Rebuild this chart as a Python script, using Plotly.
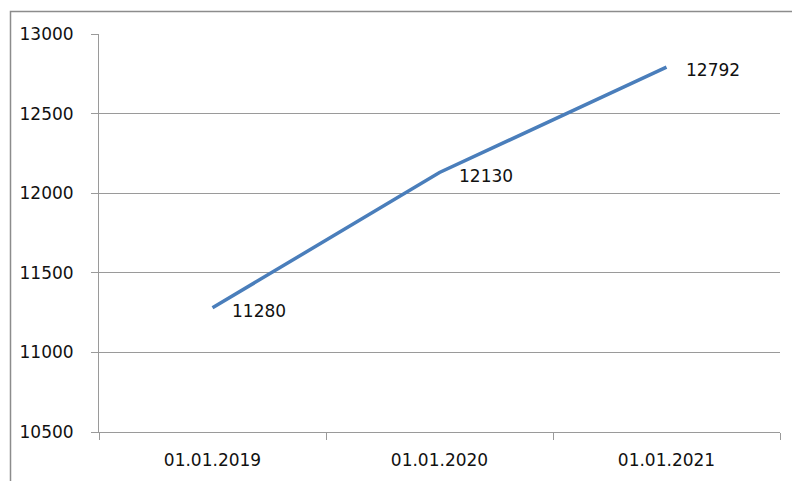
import plotly.graph_objects as go

# Values on the first day of each year
dates = ["01.01.2019", "01.01.2020", "01.01.2021"]
values = [11280, 12130, 12792]

y_ticks = [10500, 11000, 11500, 12000, 12500, 13000]

W, H = 792, 481
L, R, T, B = 99, 12, 34, 49
plot_w = W - L - R
plot_h = H - T - B

grid = "#9a9a9a"
font = dict(family="DejaVu Sans", size=17, color="#111111")

fig = go.Figure()
fig.add_trace(go.Scatter(
    x=dates, y=values, mode="lines",
    line=dict(color="#4a7ebb", width=3.5),
    hoverinfo="skip", showlegend=False,
))

# Value labels placed to the right of each point
for d, v in zip(dates, values):
    fig.add_annotation(
        x=d, y=v, text=str(v), showarrow=False,
        xanchor="left", yanchor="middle", xshift=17, yshift=-3,
        font=font,
    )


def px_x(p):
    return (p - L) / plot_w


def px_y(p):
    return (H - B - p) / plot_h


# Outer chart frame
fig.add_shape(
    type="rect", xref="paper", yref="paper",
    x0=px_x(10.5), x1=px_x(W + 20), y0=px_y(H + 20), y1=px_y(11.5),
    line=dict(color="#8c8c8c", width=1.5), fillcolor="rgba(0,0,0,0)",
    layer="below",
)

fig.update_layout(
    width=W, height=H,
    margin=dict(l=L, r=R, t=T, b=B),
    paper_bgcolor="white", plot_bgcolor="white",
    font=font,
    xaxis=dict(
        type="category", range=[-0.5, 2.5],
        tickson="boundaries", ticks="outside", ticklen=7, tickcolor=grid,
        tickwidth=1, showgrid=False, showline=True, linecolor=grid,
        linewidth=1, zeroline=False, tickfont=font,
        ticklabelstandoff=13,
    ),
    yaxis=dict(
        range=[10500, 13000], tickvals=y_ticks,
        ticktext=[str(t) for t in y_ticks],
        ticks="outside", ticklen=7, tickcolor=grid, tickwidth=1,
        showgrid=True, gridcolor=grid, gridwidth=1,
        showline=True, linecolor=grid, linewidth=1, zeroline=False,
        tickfont=font, ticklabelstandoff=14,
    ),
)

fig.write_html("out.html")
